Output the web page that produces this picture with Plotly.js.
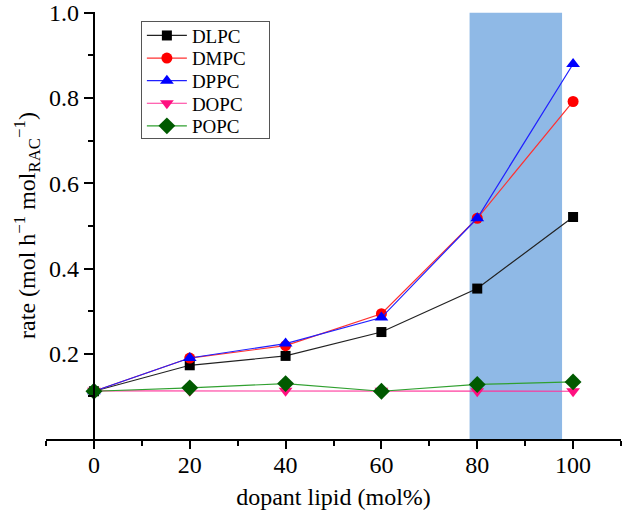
<!DOCTYPE html>
<html>
<head>
<meta charset="utf-8">
<script src="https://cdn.plot.ly/plotly-3.0.1.min.js"></script>
<style>html,body{margin:0;padding:0;background:#fff;}#chart{width:623px;height:510px;}</style>
</head>
<body>
<div id="chart"></div>
<script>
// ---- data ----
const dopant = [0, 20, 40, 60, 80, 100];
const DLPC = [0.112, 0.173, 0.195, 0.251, 0.353, 0.521];
const DMPC = [0.112, 0.190, 0.219, 0.294, 0.518, 0.792];
const DPPC = [0.112, 0.190, 0.224, 0.285, 0.518, 0.880];
const DOPC = [0.113, 0.113, 0.113, 0.113, 0.112, 0.112];
const POPC = [0.112, 0.120, 0.130, 0.112, 0.128, 0.134];
const seriesNames = ["DLPC", "DMPC", "DPPC", "DOPC", "POPC"];
const bandRange = [78.4, 97.7];
const xRange = [-10, 110];
const yRange = [0, 1.002];
const yTickVals = [0.2, 0.4, 0.6, 0.8, 1.0];
const yTickText = ["0.2", "0.4", "0.6", "0.8", "1.0"];
const yMinorVals = [0.1, 0.3, 0.5, 0.7, 0.9];
const xTickVals = [0, 20, 40, 60, 80, 100];
const xMinorVals = [-10, 10, 30, 50, 70, 90, 110];

const serif = "Liberation Serif, Times New Roman, serif";
const values = [DLPC, DMPC, DPPC, DOPC, POPC];
const styles = [
  {lc: "#222222", mc: "#000000", sym: "square", size: 10},
  {lc: "#ff3030", mc: "#ff0000", sym: "circle", size: 11},
  {lc: "#2020ff", mc: "#0000ff", sym: "triangle-up", size: 12},
  {lc: "#ff3399", mc: "#ff1080", sym: "triangle-down", size: 12},
  {lc: "#30a030", mc: "#005a00", sym: "diamond", size: 13}
];

const traces = seriesNames.map((n, i) => ({
  type: "scatter",
  mode: "lines+markers",
  name: n,
  x: dopant,
  y: values[i],
  line: {color: styles[i].lc, width: 1.2},
  marker: {color: styles[i].mc, symbol: styles[i].sym, size: styles[i].size}
}));

const yPos = (0 - xRange[0]) / (xRange[1] - xRange[0]);

const layout = {
  width: 623, height: 510,
  margin: {l: 46, r: 2, t: 12, b: 71},
  paper_bgcolor: "#ffffff", plot_bgcolor: "#ffffff",
  showlegend: true,
  legend: {
    x: 0.165, y: 0.979, xanchor: "left", yanchor: "top",
    bgcolor: "rgba(255,255,255,1)", bordercolor: "#555555", borderwidth: 1,
    font: {family: serif, size: 19, color: "#000"},
    itemwidth: 40,
    tracegroupgap: 0
  },
  xaxis: {
    range: xRange, showgrid: false, zeroline: false,
    showline: true, linecolor: "#000", linewidth: 2,
    tickmode: "array", tickvals: xTickVals,
    ticks: "outside", ticklen: 8, tickwidth: 2, tickcolor: "#000",
    ticklabelstandoff: -5,
    minor: {tickmode: "array", tickvals: xMinorVals, ticks: "outside", ticklen: 5, tickwidth: 2, tickcolor: "#000"},
    tickfont: {family: serif, size: 24, color: "#000"},
    title: {text: "dopant lipid (mol%)", font: {family: serif, size: 24, color: "#000"}, standoff: 16}
  },
  yaxis: {
    range: yRange, showgrid: false, zeroline: false,
    anchor: "free", position: yPos,
    showline: true, linecolor: "#000", linewidth: 2,
    tickmode: "array", tickvals: yTickVals, ticktext: yTickText,
    ticks: "outside", ticklen: 9, tickwidth: 2, tickcolor: "#000",
    minor: {tickmode: "array", tickvals: yMinorVals, ticks: "outside", ticklen: 5, tickwidth: 2, tickcolor: "#000"},
    tickfont: {family: serif, size: 24, color: "#000"},
    title: {text: "rate (mol h<sup>−1</sup> mol<sub>RAC</sub><sup>−1</sup>)", font: {family: serif, size: 24, color: "#000"}, standoff: 6}
  },
  shapes: [{
    type: "rect", layer: "below", xref: "x", yref: "y",
    x0: bandRange[0], x1: bandRange[1], y0: yRange[0], y1: 1.0,
    fillcolor: "rgb(143,185,230)", line: {width: 0}
  }]
};

const gd = document.getElementById("chart");
Plotly.newPlot(gd, traces, layout, {displayModeBar: false, staticPlot: true}).then(() => {
  // tighten legend row spacing to match the reference
  const rowH = 22.6, firstY = 14.5;
  const items = gd.querySelectorAll(".legend .traces");
  items.forEach((g, i) => {
    const t = g.getAttribute("transform") || "";
    const m = t.match(/translate\(([-\d.]+)/);
    const tx = m ? m[1] : 1;
    g.setAttribute("transform", "translate(" + tx + "," + (firstY + i * rowH) + ")");
  });
  const bg = gd.querySelector(".legend .bg");
  if (bg) { bg.setAttribute("height", 117); bg.setAttribute("width", 128); }
});
</script>
</body>
</html>
